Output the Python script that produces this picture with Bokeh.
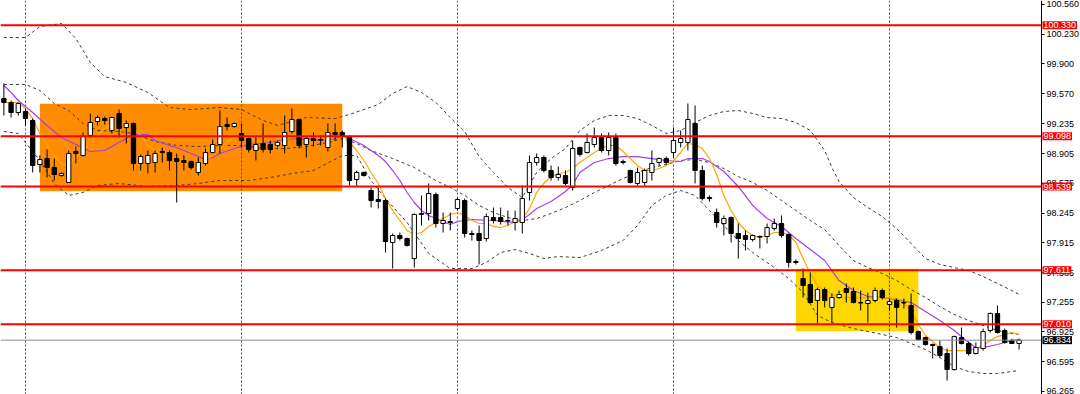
from bokeh.plotting import figure
from bokeh.models import ColumnDataSource, Label, FixedTicker, PrintfTickFormatter, Range1d
from bokeh.embed import file_html
from bokeh.resources import INLINE

# ---------------- data ----------------
opens = [99.516, 99.472, 99.361, 99.372, 99.272, 98.784, 98.850, 98.750, 98.661, 98.584,
         98.928, 98.884, 99.106, 99.261, 99.294, 99.161, 99.350, 99.194, 99.239, 98.795,
         98.795, 98.806, 98.928, 98.917, 98.850, 98.828, 98.817, 98.695, 98.795, 98.917,
         99.006, 99.228, 99.206, 99.128, 99.072, 98.939, 99.017, 99.006, 98.995, 98.995,
         99.150, 99.283, 99.006, 99.072, 99.061, 98.972, 99.139, 99.139, 99.083, 98.617,
         98.695, 98.495, 98.395, 98.384, 97.918, 97.996, 97.962, 97.740, 98.229, 98.240,
         98.451, 98.129, 98.140, 98.295, 98.384, 98.018, 98.018, 97.962, 98.195, 98.195,
         98.162, 98.140, 98.140, 98.473, 98.806, 98.861, 98.717, 98.639, 98.661, 98.528,
         98.972, 98.917, 99.006, 99.083, 98.939, 99.083, 98.817, 98.717, 98.573, 98.584,
         98.695, 98.806, 98.850, 98.917, 99.028, 99.028, 99.239, 98.717, 98.417, 98.251,
         98.129, 98.195, 98.018, 97.996, 97.951, 97.985, 97.985, 98.073, 98.129, 98.007,
         97.707, 97.518, 97.452, 97.274, 97.396, 97.197, 97.307, 97.407, 97.374, 97.252,
         97.241, 97.274, 97.385, 97.230, 97.274, 97.252, 97.219, 96.930, 96.863, 96.786,
         96.763, 96.686, 96.508, 96.863, 96.797, 96.686, 96.741, 96.941, 97.130, 96.941,
         96.830, 96.797]
highs = [99.683, 99.494, 99.472, 99.405, 99.294, 98.884, 98.950, 98.850, 98.695, 98.939,
         98.983, 99.139, 99.350, 99.328, 99.316, 99.316, 99.394, 99.272, 99.250, 98.895,
         98.939, 98.939, 98.972, 98.939, 98.906, 98.884, 98.828, 98.861, 98.961, 99.061,
         99.383, 99.305, 99.250, 99.239, 99.083, 99.083, 99.239, 99.050, 99.050, 99.328,
         99.405, 99.294, 99.106, 99.139, 99.106, 99.239, 99.239, 99.161, 99.106, 98.717,
         98.706, 98.528, 98.528, 98.406, 98.018, 98.029, 97.973, 98.240, 98.440, 98.573,
         98.473, 98.251, 98.251, 98.417, 98.406, 98.051, 98.107, 98.240, 98.306, 98.306,
         98.273, 98.273, 98.551, 98.884, 98.906, 98.884, 98.772, 98.761, 98.717, 99.050,
         98.983, 99.128, 99.194, 99.128, 99.139, 99.128, 98.839, 98.728, 98.750, 98.739,
         98.939, 98.861, 98.872, 99.194, 99.161, 99.461, 99.439, 98.772, 98.440, 98.295,
         98.218, 98.206, 98.129, 98.051, 98.007, 97.996, 98.129, 98.184, 98.218, 98.018,
         97.729, 97.629, 97.585, 97.418, 97.418, 97.352, 97.385, 97.463, 97.418, 97.385,
         97.363, 97.418, 97.407, 97.296, 97.296, 97.296, 97.352, 96.941, 96.874, 96.797,
         96.830, 96.741, 96.885, 96.974, 96.819, 96.808, 96.963, 97.141, 97.219, 96.963,
         96.852, 96.852]
lows = [99.327, 99.305, 99.327, 99.217, 98.695, 98.695, 98.639, 98.606, 98.650, 98.584,
        98.795, 98.872, 99.083, 99.217, 99.228, 99.128, 99.083, 99.017, 98.717, 98.717,
        98.684, 98.695, 98.806, 98.717, 98.362, 98.717, 98.728, 98.661, 98.772, 98.906,
        98.906, 99.161, 99.194, 98.972, 98.917, 98.828, 98.917, 98.906, 98.972, 98.906,
        99.128, 98.961, 98.861, 98.983, 98.995, 98.928, 99.050, 98.972, 98.551, 98.551,
        98.650, 98.307, 98.296, 97.807, 97.629, 97.940, 97.873, 97.640, 98.107, 98.162,
        98.084, 98.029, 98.051, 98.273, 97.973, 97.940, 97.674, 97.929, 98.129, 98.118,
        98.107, 98.051, 98.018, 98.384, 98.772, 98.695, 98.606, 98.606, 98.551, 98.495,
        98.872, 98.906, 98.972, 98.917, 98.884, 98.772, 98.784, 98.573, 98.551, 98.551,
        98.606, 98.772, 98.784, 98.861, 98.972, 98.939, 98.573, 98.384, 98.373, 98.084,
        97.996, 97.918, 97.740, 97.829, 97.929, 97.851, 97.907, 98.051, 97.973, 97.640,
        97.674, 97.307, 97.241, 97.019, 97.197, 97.030, 97.296, 97.252, 97.241, 97.163,
        97.030, 97.252, 97.285, 97.163, 96.974, 97.185, 96.897, 96.830, 96.774, 96.630,
        96.641, 96.386, 96.497, 96.786, 96.663, 96.675, 96.719, 96.919, 96.908, 96.797,
        96.797, 96.730]
closes = [99.472, 99.361, 99.461, 99.294, 98.773, 98.839, 98.750, 98.673, 98.684, 98.906,
          98.906, 99.094, 99.250, 99.305, 99.272, 99.305, 99.183, 99.239, 98.795, 98.872,
          98.884, 98.906, 98.917, 98.828, 98.817, 98.806, 98.750, 98.806, 98.917, 99.006,
          99.206, 99.206, 99.239, 99.050, 98.950, 99.006, 98.950, 98.950, 99.028, 99.139,
          99.283, 98.995, 99.072, 99.050, 99.056, 99.139, 99.117, 99.106, 98.606, 98.695,
          98.661, 98.384, 98.373, 97.929, 97.996, 97.962, 97.885, 98.229, 98.240, 98.462,
          98.129, 98.162, 98.151, 98.395, 98.018, 98.007, 97.940, 98.206, 98.162, 98.151,
          98.157, 98.184, 98.406, 98.806, 98.861, 98.717, 98.639, 98.673, 98.573, 98.961,
          98.895, 99.028, 99.083, 98.939, 99.083, 98.795, 98.806, 98.584, 98.695, 98.717,
          98.795, 98.850, 98.806, 99.050, 99.072, 99.283, 98.717, 98.406, 98.406, 98.140,
          98.184, 98.018, 97.962, 97.951, 97.996, 97.979, 98.084, 98.129, 97.996, 97.696,
          97.696, 97.441, 97.252, 97.396, 97.274, 97.307, 97.341, 97.363, 97.252, 97.247,
          97.274, 97.385, 97.307, 97.263, 97.197, 97.247, 96.919, 96.841, 96.786, 96.775,
          96.663, 96.508, 96.874, 96.797, 96.686, 96.752, 96.930, 97.130, 96.919, 96.808,
          96.797, 96.834]

# Bollinger bands (upper / middle / lower), sampled at candle indices
bb_up_x = [0, 3, 5, 8, 10, 12, 14, 17, 20, 23, 26, 30, 33, 36, 38, 40, 42, 46, 48, 50,
           52, 54, 56, 58, 60, 62, 64, 66, 68, 70, 72, 74, 76, 78, 80, 82, 84, 86, 88, 90,
           92, 94, 96, 98, 100, 102, 104, 106, 108, 110, 112, 114, 115, 116, 118, 120, 122,
           124, 126, 128, 130, 132, 134, 136, 138, 140, 141]
bb_up_y = [100.193, 100.193, 100.315, 100.349, 100.182, 99.916, 99.760, 99.694, 99.583, 99.416,
           99.394, 99.416, 99.394, 99.272, 99.217, 99.261, 99.305, 99.294, 99.339, 99.394,
           99.450, 99.572, 99.649, 99.583, 99.472, 99.305, 99.150, 98.872, 98.695, 98.529,
           98.417, 98.695, 98.850, 98.961, 99.161, 99.272, 99.328, 99.328, 99.294, 99.217,
           99.128, 99.161, 99.250, 99.328, 99.372, 99.383, 99.350, 99.305, 99.294, 99.250,
           99.161, 98.939, 98.750, 98.595, 98.417, 98.306, 98.206,
           98.073, 97.907, 97.740, 97.674, 97.640, 97.607, 97.540, 97.463, 97.385, 97.341]
bb_mid_x = [0, 3, 5, 7, 9, 11, 13, 16, 18, 21, 24, 27, 30, 33, 36, 39, 42, 45, 47, 49,
            51, 54, 57, 60, 62, 64, 66, 68, 70, 72, 74, 76, 78, 80, 82, 84, 86, 88, 90, 92,
            94, 96, 98, 100, 102, 104, 106, 108, 110, 112, 114, 116, 118, 120, 122, 124, 126,
            128, 130, 132, 134, 136, 138, 140, 141]
bb_mid_y = [99.672, 99.672, 99.605, 99.461, 99.383, 99.239, 99.161, 99.150, 99.128, 99.039,
            98.995, 98.983, 98.995, 98.995, 98.961, 98.961, 98.983, 99.028, 99.072, 99.017,
            98.939, 98.850, 98.750, 98.606, 98.529, 98.440, 98.329, 98.251, 98.195, 98.162,
            98.184, 98.240, 98.306, 98.384, 98.473, 98.551, 98.628, 98.695, 98.750, 98.784,
            98.828, 98.839, 98.806, 98.739, 98.650, 98.584, 98.495, 98.384, 98.273, 98.162,
            98.062, 97.884, 97.718, 97.640, 97.574, 97.496, 97.396,
            97.307, 97.207, 97.119, 97.052, 96.997, 96.941, 96.908, 96.897]
bb_low_x = [0, 2, 5, 7, 9, 11, 13, 16, 20, 24, 27, 30, 34, 37, 40, 43, 47, 49, 51, 53,
            56, 59, 62, 65, 67, 69, 71, 73, 75, 77, 80, 83, 86, 88, 90, 92, 94, 96, 98, 100,
            102, 104, 107, 109, 111, 113, 115, 118, 120, 122, 124, 126, 128, 130, 132, 134,
            136, 138, 140, 141]
bb_low_y = [99.150, 99.128, 98.828, 98.573, 98.440, 98.473, 98.551, 98.573, 98.540, 98.551,
            98.573, 98.606, 98.606, 98.639, 98.684, 98.717, 98.884, 98.884, 98.606, 98.406,
            98.140, 97.796, 97.629, 97.629, 97.696, 97.807, 97.840, 97.796, 97.740, 97.762,
            97.751, 97.829, 97.940, 98.107, 98.329, 98.440, 98.495, 98.440, 98.273, 98.107,
            97.940, 97.807, 97.640, 97.518, 97.363, 97.108, 97.030, 96.963, 96.930, 96.897,
            96.863, 96.797, 96.730, 96.641, 96.541, 96.486, 96.464, 96.464, 96.486, 96.497]

# fast moving average (orange)
ma_fast_x = [0, 2, 3, 4, 5, 6, 7, 8, 9, 10, 11, 12, 13, 14, 15, 16, 17, 18, 19, 20,
             22, 24, 26, 28, 30, 32, 34, 36, 38, 40, 42, 44, 46, 47, 48, 49, 50, 51, 52, 53,
             54, 55, 56, 57, 58, 59, 60, 61, 62, 63, 64, 65, 66, 67, 68, 69, 70, 71, 72, 73,
             74, 75, 76, 77, 78, 79, 80, 81, 82, 83, 84, 85, 86, 87, 88, 89, 90, 91, 92, 93,
             94, 95, 96, 97, 98, 99, 100, 101, 102, 103, 104, 105, 106, 107, 108, 109, 110,
             111, 112, 113, 114, 115, 116, 118, 120, 122, 124, 125, 126, 127, 128, 129, 130,
             131, 132, 134, 135, 136, 137, 138, 139, 140, 141]
ma_fast_y = [99.472, 99.472, 99.405, 99.294, 99.128, 98.994, 98.884, 98.795, 98.772, 98.861,
             98.939, 99.017, 99.106, 99.183, 99.228, 99.250, 99.250, 99.183, 99.106, 98.994,
             98.884, 98.850, 98.806, 98.828, 98.961, 99.094, 99.072, 99.017, 98.983, 99.106,
             99.106, 99.072, 99.083, 99.117, 99.028, 98.939, 98.828, 98.695, 98.573, 98.406,
             98.273, 98.162, 98.051, 98.007, 98.029, 98.096, 98.140, 98.184, 98.229, 98.251,
             98.218, 98.162, 98.129, 98.129, 98.096, 98.084, 98.107, 98.151, 98.184, 98.295,
             98.473, 98.573, 98.650, 98.684, 98.695, 98.739, 98.806, 98.861, 98.917, 98.961,
             98.994, 98.994, 98.928, 98.850, 98.772, 98.717, 98.717, 98.739, 98.772, 98.828,
             98.917, 99.017, 99.006, 98.961, 98.850, 98.673, 98.440, 98.273, 98.140, 98.051,
             97.996, 97.973, 97.996, 98.029, 98.029, 98.007, 97.918,
             97.740, 97.574, 97.441, 97.385, 97.341, 97.307, 97.307, 97.307, 97.307, 97.296,
             97.241, 97.163, 97.008, 96.885, 96.819, 96.752,
             96.719, 96.719, 96.719, 96.741, 96.775, 96.830, 96.874, 96.897, 96.919, 96.897]

# slow moving average (purple)
ma_slow_x = [0, 1, 2, 3, 4, 6, 8, 10, 12, 14, 15, 17, 18, 20, 21, 23, 24, 26, 28, 29,
             30, 32, 34, 37, 39, 42, 44, 46, 47, 48, 50, 52, 53, 54, 55, 56, 57, 58, 59, 61,
             62, 63, 65, 68, 71, 72, 73, 74, 76, 78, 79, 80, 82, 84, 86, 88, 90, 92, 94, 95,
             97, 98, 100, 102, 104, 106, 108, 110, 112, 114, 116, 118, 120, 122, 124, 126,
             128, 130, 132, 134, 135, 136, 138, 140, 141]
ma_slow_y = [99.661, 99.583, 99.494, 99.428, 99.361, 99.217, 99.083, 99.006, 98.928, 98.939,
             98.983, 99.072, 99.117, 99.117, 99.050, 98.994, 98.972, 98.906, 98.839, 98.861,
             98.906, 98.961, 99.006, 99.028, 99.061, 99.072, 99.050, 99.072, 99.106, 99.072,
             98.994, 98.884, 98.817, 98.717, 98.606, 98.473, 98.362, 98.273, 98.218, 98.151,
             98.118, 98.151, 98.173, 98.162, 98.140, 98.173, 98.229, 98.295, 98.373, 98.484,
             98.562, 98.695, 98.806, 98.850, 98.872, 98.872, 98.850, 98.828, 98.817, 98.850,
             98.850, 98.817, 98.706, 98.540, 98.329, 98.184, 98.096, 97.962, 97.840, 97.718,
             97.496, 97.385, 97.318, 97.307, 97.285, 97.252,
             97.152, 97.052, 96.941, 96.808, 96.752, 96.752, 96.786, 96.830, 96.841]

# horizontal levels and current price
levels = [100.330, 99.098, 98.539, 97.611, 97.010]
level_labels = ["100.330", "99.098", "98.539", "97.611", "97.010"]
bid_price = 96.834
bid_label = "96.834"

# price axis ticks
tick_values = [100.560, 100.230, 99.900, 99.570, 99.235, 98.905, 98.575, 98.245,
               97.915, 97.585, 97.255, 96.925, 96.595, 96.265]

# vertical separators (candle indices)
grid_idx = [3, 33, 63, 93, 123]

# rectangles: left/right candle index, top/bottom price
box_left = [5, 110]
box_right = [47, 127]
box_top = [99.458, 97.626]
box_bottom = [98.488, 96.933]
box_color = ["#FF8C00", "#FFD700"]

# ---------------- figure ----------------
Y_TOP, Y_BOT = 100.604, 96.231
X_LEFT, X_RIGHT = -0.47, 149.53     # frame covers the whole 1080 px
AXIS_AT = 144.11                     # price scale sits at x = 1041 px

p = figure(width=1080, height=394, output_backend="svg", toolbar_location=None,
           x_axis_location=None, y_axis_location="right",
           x_range=Range1d(X_LEFT, X_RIGHT), y_range=Range1d(Y_BOT, Y_TOP),
           min_border=0)
p.outline_line_color = None
p.xgrid.visible = False
p.ygrid.visible = False
p.background_fill_color = "white"
p.border_fill_color = "white"

ax = p.yaxis[0]
ax.fixed_location = AXIS_AT
ax.ticker = FixedTicker(ticks=tick_values)
ax.formatter = PrintfTickFormatter(format="%.3f")
ax.major_label_text_font = "Liberation Sans"
ax.major_label_text_font_size = "9px"
ax.major_label_text_color = "black"
ax.major_tick_out = 3
ax.major_tick_in = 0
ax.minor_tick_out = 0
ax.minor_tick_in = 0
ax.major_label_standoff = 2
ax.axis_line_color = "black"
ax.major_tick_line_color = "black"

# rectangles
p.quad(left=box_left, right=box_right, top=box_top, bottom=box_bottom,
       fill_color=box_color, line_color=None)

# vertical dotted separators
p.segment(x0=grid_idx, x1=grid_idx, y0=[Y_BOT] * len(grid_idx), y1=[Y_TOP] * len(grid_idx),
          line_color="#555555", line_dash="2 2", line_width=1)
# inside the yellow box the separator shows blue
p.segment(x0=[grid_idx[4]], x1=[grid_idx[4]], y0=[box_bottom[1]], y1=[box_top[1]],
          line_color="#1E50FF", line_dash="2 2", line_width=1)

# bands
for xs, ys in ((bb_up_x, bb_up_y), (bb_mid_x, bb_mid_y), (bb_low_x, bb_low_y)):
    p.line(xs, ys, line_color="#3a3a3a", line_dash="3 3", line_width=1)

# moving averages
p.line(ma_slow_x, ma_slow_y, line_color="#A040F0", line_width=1.2)
p.line(ma_fast_x, ma_fast_y, line_color="#FFA500", line_width=1.2)

# candles
n = len(opens)
xs = list(range(n))
src = ColumnDataSource(dict(
    x=xs, high=highs, low=lows,
    top=[max(o, c) for o, c in zip(opens, closes)],
    bottom=[min(o, c) for o, c in zip(opens, closes)],
    fill=["white" if c >= o else "black" for o, c in zip(opens, closes)],
))
p.segment(x0="x", x1="x", y0="low", y1="high", source=src, line_color="black", line_width=1)
p.vbar(x="x", width=0.6, top="top", bottom="bottom", source=src,
       fill_color="fill", line_color="black", line_width=1)

# level lines (end at the price scale)
p.segment(x0=[X_LEFT] * len(levels), x1=[AXIS_AT] * len(levels), y0=levels, y1=levels,
          line_color="#FF0000", line_width=2)
p.segment(x0=[X_LEFT], x1=[AXIS_AT], y0=[bid_price], y1=[bid_price],
          line_color="#8C8C8C", line_width=1)

# price tags on the axis
for lv, txt in zip(levels, level_labels):
    p.add_layout(Label(x=AXIS_AT, y=lv, x_offset=1, text=txt,
                       text_font="Liberation Sans", text_font_size="9px", text_color="white",
                       text_baseline="middle", text_align="left",
                       background_fill_color="#FF0000", padding=1))
p.add_layout(Label(x=AXIS_AT, y=bid_price, x_offset=1, text=bid_label,
                   text_font="Liberation Sans", text_font_size="9px", text_color="white",
                   text_baseline="middle", text_align="left",
                   background_fill_color="black", padding=1))

open("out.html", "w").write(file_html(p, INLINE))
